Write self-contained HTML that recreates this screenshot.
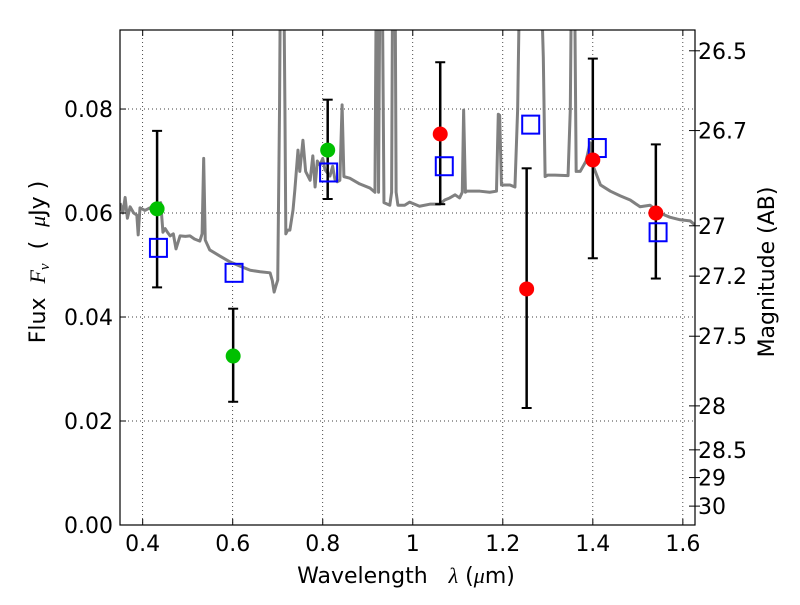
<!DOCTYPE html>
<html><head><meta charset="utf-8"><style>
body{margin:0;background:#fff}
svg text{font-family:"DejaVu Sans","Liberation Sans",sans-serif;fill:#000}
</style></head><body>
<svg id="c" width="800" height="600" xmlns="http://www.w3.org/2000/svg"></svg>
<script>
const specLam=[0.350,0.356,0.361,0.366,0.372,0.380,0.387,0.390,0.394,0.405,0.416,0.425,0.434,0.440,0.445,0.450,0.455,0.461,0.468,0.474,0.483,0.495,0.505,0.515,0.527,0.532,0.5355,0.539,0.549,0.572,0.594,0.616,0.639,0.661,0.683,0.688,0.692,0.696,0.700,0.704,0.707,0.712,0.716,0.718,0.722,0.727,0.734,0.738,0.745,0.749,0.756,0.762,0.772,0.778,0.783,0.788,0.794,0.800,0.805,0.816,0.822,0.827,0.832,0.838,0.843,0.847,0.860,0.882,0.905,0.916,0.920,0.924,0.928,0.931,0.936,0.949,0.953,0.956,0.960,0.963,0.967,0.982,0.993,1.015,1.038,1.060,1.071,1.082,1.094,1.104,1.110,1.113,1.117,1.120,1.149,1.171,1.186,1.190,1.193,1.197,1.200,1.216,1.227,1.233,1.240,1.250,1.262,1.270,1.280,1.290,1.294,1.300,1.316,1.345,1.350,1.354,1.358,1.363,1.372,1.385,1.394,1.401,1.417,1.439,1.461,1.483,1.505,1.527,1.549,1.571,1.594,1.616,1.627];
const specFlux=[0.0619,0.0600,0.0630,0.0590,0.0612,0.0600,0.0596,0.0558,0.0610,0.0605,0.0610,0.0600,0.0602,0.0620,0.0563,0.0570,0.0563,0.0556,0.0560,0.0531,0.0556,0.0555,0.0556,0.0550,0.0546,0.0560,0.0705,0.0548,0.0529,0.0517,0.0506,0.0498,0.0490,0.0487,0.0485,0.0470,0.0448,0.0460,0.0471,0.0800,0.1200,0.1200,0.0800,0.0560,0.0567,0.0567,0.0606,0.0644,0.0721,0.0680,0.0740,0.0680,0.0663,0.0710,0.0650,0.0700,0.0692,0.0705,0.0683,0.0671,0.0690,0.0665,0.0660,0.0663,0.0808,0.0670,0.0667,0.0656,0.0648,0.0640,0.1200,0.0640,0.1200,0.1200,0.0620,0.0615,0.0640,0.1200,0.1200,0.0640,0.0615,0.0615,0.0621,0.0613,0.0617,0.0617,0.0625,0.0629,0.0635,0.0629,0.0640,0.0798,0.0640,0.0642,0.0642,0.0640,0.0642,0.0790,0.0788,0.0654,0.0654,0.0654,0.0650,0.0800,0.1200,0.1200,0.1200,0.1200,0.1200,0.0900,0.0670,0.0673,0.0673,0.0672,0.0800,0.1200,0.1200,0.0680,0.0680,0.0700,0.0735,0.0690,0.0654,0.0642,0.0633,0.0625,0.0612,0.0615,0.0600,0.0592,0.0587,0.0585,0.0577];
const photLam=[0.432,0.601,0.811,1.061,1.253,1.400,1.540];
const photFlux=[0.0608,0.0325,0.0721,0.0752,0.0454,0.0702,0.0600];
const errLo=[0.0457,0.0237,0.0627,0.0617,0.0225,0.0513,0.0474];
const errHi=[0.0758,0.0416,0.0818,0.0890,0.0686,0.0897,0.0732];
const photColor=['#00c000','#00c000','#00c000','#ff0000','#ff0000','#ff0000','#ff0000'];
const modelLam=[0.435,0.603,0.813,1.070,1.262,1.410,1.545];
const modelFlux=[0.0533,0.0485,0.0678,0.0690,0.0770,0.0725,0.0563];
const xTicks=[0.4,0.6,0.8,1.0,1.2,1.4,1.6];
const xTickLabels=['0.4','0.6','0.8','1','1.2','1.4','1.6'];
const yTicks=[0,0.02,0.04,0.06,0.08];
const yTickLabels=['0.00','0.02','0.04','0.06','0.08'];
const magTicks=[26.5,26.7,27,27.2,27.5,28,28.5,29,30];
const magLabels=['26.5','26.7','27','27.2','27.5','28','28.5','29','30'];

const L=120,R=695,T=30,B=525;
const xmin=0.3496,xmax=1.627,ymin=0,ymax=0.0952;
const X=v=>L+(v-xmin)/(xmax-xmin)*(R-L);
const Y=v=>B-(v-ymin)/(ymax-ymin)*(B-T);
const NS='http://www.w3.org/2000/svg';
const svg=document.getElementById('c');
function mk(tag,at,parent){const e=document.createElementNS(NS,tag);for(const k in at)e.setAttribute(k,at[k]);(parent||svg).appendChild(e);return e;}
const defs=mk('defs',{});const cp=mk('clipPath',{id:'clip'},defs);mk('rect',{x:L,y:T,width:R-L,height:B-T},cp);

const grid=mk('g',{});


xTicks.forEach(t=>{const x=X(t);mk('line',{x1:x,x2:x,y1:T,y2:B,stroke:'#000','stroke-width':0.7,'stroke-dasharray':'1,3'},grid);});
yTicks.forEach(t=>{const y=Y(t);mk('line',{x1:L,x2:R,y1:y,y2:y,stroke:'#000','stroke-width':0.7,'stroke-dasharray':'1,3'},grid);});

const g=mk('g',{'clip-path':'url(#clip)'});
const sp=mk('polyline',{points:specLam.map((l,i)=>X(l)+','+Y(specFlux[i])).join(' '),fill:'none',stroke:'#808080','stroke-width':3,'stroke-linejoin':'round'},g);



photLam.forEach((l,i)=>{
  const x=X(l);
  const eb=mk('g',{},g);
  
  
  mk('line',{x1:x,x2:x,y1:Y(errLo[i]),y2:Y(errHi[i]),stroke:'#000','stroke-width':2.5},eb);
  mk('line',{x1:x-5,x2:x+5,y1:Y(errLo[i]),y2:Y(errLo[i]),stroke:'#000','stroke-width':2},eb);
  mk('line',{x1:x-5,x2:x+5,y1:Y(errHi[i]),y2:Y(errHi[i]),stroke:'#000','stroke-width':2},eb);
});
modelLam.forEach((l,i)=>{
  const s=mk('rect',{x:X(l)-8.5,y:Y(modelFlux[i])-9,width:17,height:18,fill:'none',stroke:'#0000ff','stroke-width':2},g);
  
  
});
photLam.forEach((l,i)=>{
  const c=mk('circle',{cx:X(l),cy:Y(photFlux[i]),r:7.5,fill:photColor[i]},g);
  
  
});

const ax=mk('rect',{x:L,y:T,width:R-L,height:B-T,fill:'none',stroke:'#000','stroke-width':1.2});



xTicks.forEach((t,i)=>{const x=X(t);
  mk('line',{x1:x,x2:x,y1:B,y2:B-6,stroke:'#000'});mk('line',{x1:x,x2:x,y1:T,y2:T+6,stroke:'#000'});
  const tx=mk('text',{x:x,y:B+26,'text-anchor':'middle','font-size':22});tx.textContent=xTickLabels[i];
  
  
});
yTicks.forEach((t,i)=>{const y=Y(t);
  mk('line',{x1:L,x2:L+6,y1:y,y2:y,stroke:'#000'});
  const tx=mk('text',{x:L-7,y:y+8,'text-anchor':'end','font-size':22});tx.textContent=yTickLabels[i];
  
  
});
magTicks.forEach((m,i)=>{const y=Y(Math.pow(10,(23.9-m)/2.5));
  mk('line',{x1:R-6,x2:R+5,y1:y,y2:y,stroke:'#000'});
  const tx=mk('text',{x:R+3,y:y+8,'font-size':22});tx.textContent=magLabels[i];
  
  
});

const xl=mk('text',{x:406,y:583,'text-anchor':'middle','font-size':22});
xl.innerHTML='Wavelength&#160;&#160;&#160;<tspan font-family="Liberation Serif" font-style="italic">λ</tspan> (<tspan font-family="Liberation Serif" font-style="italic">μ</tspan>m)';


const yl=mk('text',{x:0,y:0,'text-anchor':'middle','font-size':22,transform:'translate(45,262) rotate(-90)'});
yl.innerHTML='Flux&#160;&#160;<tspan font-family="Liberation Serif" font-style="italic">F<tspan font-size="15" dy="4">ν</tspan></tspan><tspan dy="-4">&#160;&#160;(&#160;&#160;</tspan><tspan font-family="Liberation Serif" font-style="italic">μ</tspan>Jy )';


const yr=mk('text',{x:0,y:0,'text-anchor':'middle','font-size':22,transform:'translate(774,272) rotate(-90)'});
yr.textContent='Magnitude (AB)';


</script>
</body></html>
